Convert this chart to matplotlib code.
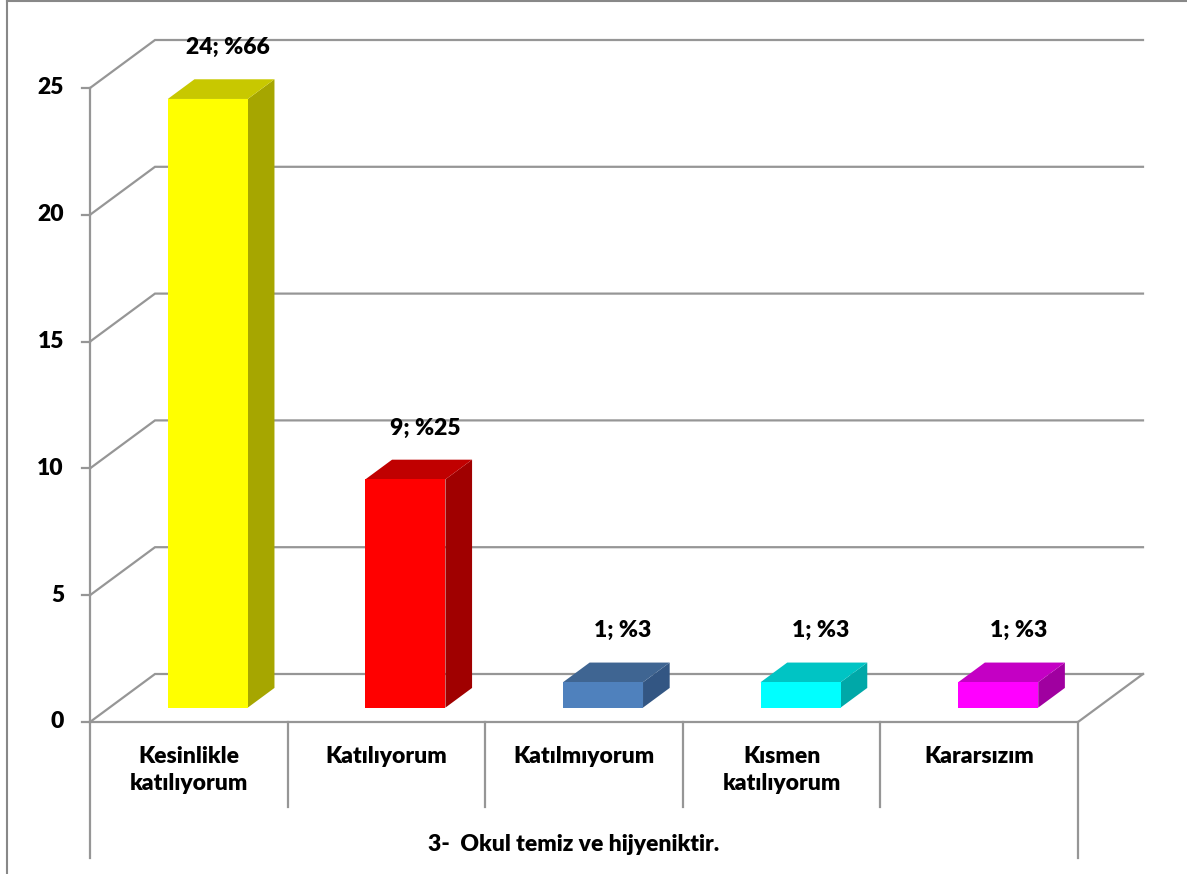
import matplotlib
matplotlib.use("Agg")
import matplotlib.pyplot as plt
from matplotlib.patches import Polygon
from matplotlib.lines import Line2D

plt.rcParams['font.family'] = ['Lato', 'DejaVu Sans']

# Data
categories = ["Kesinlikle\nkatılıyorum", "Katılıyorum", "Katılmıyorum",
              "Kısmen\nkatılıyorum", "Kararsızım"]
counts = [24, 9, 1, 1, 1]
percents = [66, 25, 3, 3, 3]
title = "3-  Okul temiz ve hijyeniktir."
yticks = [0, 5, 10, 15, 20, 25]

front_colors = ["#FFFF00", "#FF0000", "#4F81BD", "#00FFFF", "#FF00FF"]
top_colors = ["#C8C800", "#C00000", "#3F6592", "#00C4C4", "#C400C4"]
side_colors = ["#A6A600", "#A00000", "#335683", "#00A8A8", "#A000A0"]

# oblique projection: depth offset (full depth) in data units
DX = 65 / 197.6
DY = 48 / 25.36
GRID = "#969696"
FS = 16.5
FW = "heavy"


def proj(x, y, d):
    return (x + d * DX, y + d * DY)


fig = plt.figure(figsize=(11.87, 8.74), dpi=100)
ax = fig.add_axes([0, 0, 1, 1])
ax.set_xlim(-90 / 197.6, (1187 - 90) / 197.6)
ax.set_ylim(-(874 - 722) / 25.36, 722 / 25.36)
ax.axis("off")

ncat = len(categories)

# back wall gridlines and left wall diagonals
for t in yticks:
    p0, p1, p2 = proj(0, t, 0), proj(0, t, 1), proj(ncat, t, 1)
    ax.plot([p0[0], p1[0], p2[0]], [p0[1], p1[1], p2[1]], color=GRID, lw=1.6,
            solid_joinstyle="miter", zorder=1)
    ax.plot([-8 / 197.6, 0], [t, t], color=GRID, lw=1.6, zorder=1)
    ax.text(-26 / 197.6, t, str(t), ha="right", va="center", fontsize=FS,
            fontweight=FW)

# front y axis
ax.plot([0, 0], [0, yticks[-1]], color=GRID, lw=1.6, zorder=1)

# floor front edge and right edge
pf = proj(ncat, 0, 0)
pb = proj(ncat, 0, 1)
ax.plot([0, pf[0], pb[0]], [0, pf[1], pb[1]], color=GRID, lw=1.6, zorder=1)

# category dividers below the axis
for i in range(ncat + 1):
    low = -5.36 if i in (0, ncat) else -3.35
    ax.plot([i, i], [0, low], color=GRID, lw=1.6, zorder=1)

# bars
x_off, width = 0.295, 0.405
d0, d1 = 0.30, 0.71
for i, v in enumerate(counts):
    x0, x1 = i + x_off, i + x_off + width
    front = [proj(x0, 0, d0), proj(x1, 0, d0), proj(x1, v, d0), proj(x0, v, d0)]
    top = [proj(x0, v, d0), proj(x1, v, d0), proj(x1, v, d1), proj(x0, v, d1)]
    side = [proj(x1, 0, d0), proj(x1, 0, d1), proj(x1, v, d1), proj(x1, v, d0)]
    ax.add_patch(Polygon(side, closed=True, facecolor=side_colors[i],
                         edgecolor="none", zorder=3))
    ax.add_patch(Polygon(top, closed=True, facecolor=top_colors[i],
                         edgecolor="none", zorder=3))
    ax.add_patch(Polygon(front, closed=True, facecolor=front_colors[i],
                         edgecolor="none", zorder=4))
    lx, ly = proj(i + 0.5, v, d1)
    ax.text(i + 0.5 + 0.6 * DX, ly + 1.25, f"{v}; %{percents[i]}", ha="center",
            va="center", fontsize=FS, fontweight=FW, zorder=5)

# category labels
for i, lab in enumerate(categories):
    ax.text(i + 0.5, -0.95, lab, ha="center", va="top", fontsize=FS,
            fontweight=FW, linespacing=1.35)

ax.text(2.45, -4.85, title, ha="center", va="center", fontsize=FS,
        fontweight=FW)

# chart area border (partly visible)
fig.add_artist(Line2D([7 / 1187, 7 / 1187], [0, 1 - 1 / 874], color="#888888",
                      lw=1.5, transform=fig.transFigure))
fig.add_artist(Line2D([7 / 1187, 1], [1 - 1 / 874, 1 - 1 / 874], color="#888888",
                      lw=1.5, transform=fig.transFigure))

fig.savefig("out.png", dpi=100)
